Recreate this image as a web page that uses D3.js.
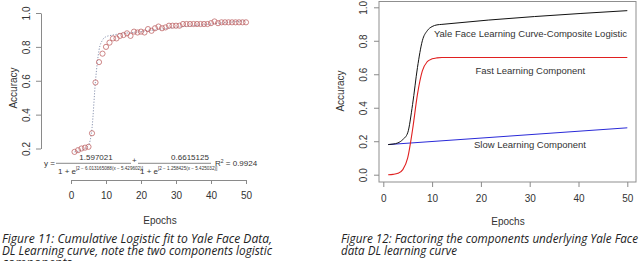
<!DOCTYPE html>
<html><head><meta charset="utf-8">
<script src="https://cdn.jsdelivr.net/npm/d3@7"></script>
<style>
body{margin:0;background:#fff;}
svg{display:block;}
.rt{font-family:"Liberation Sans",Arial,sans-serif;fill:#333;}
.cap{font-family:"Open Sans",sans-serif;font-style:italic;fill:#222;}
</style></head><body>
<svg id="c" width="640" height="261"></svg>
<script>
// ---------- data ----------
const epochs = d3.range(1, 51);
const observedAccuracy = [0.18,0.19,0.20,0.205,0.21,0.29,0.59,0.71,0.76,0.80,
  0.825,0.85,0.85,0.865,0.87,0.88,0.865,0.89,0.885,0.89,
  0.885,0.905,0.895,0.91,0.92,0.91,0.915,0.925,0.925,0.925,
  0.925,0.935,0.935,0.935,0.935,0.935,0.935,0.935,0.935,0.94,
  0.95,0.94,0.945,0.945,0.945,0.945,0.945,0.945,0.945,0.945];
const fitEpochs = [1,3,5,6,7,8,9,10,12,20,30,40,50];
const fitAccuracy = [0.18,0.19,0.22,0.32,0.60,0.78,0.84,0.86,0.87,0.89,0.915,0.935,0.955];

const compEpochs   = [1,2,3,4,5,6,7,8,9,10,11,12,50];
const compositeAcc = [0.18,0.183,0.19,0.21,0.25,0.42,0.64,0.80,0.86,0.885,0.895,0.898,0.98];
const fastEpochs   = [1,2,3,4,5,6,7,8,9,10,11,12,50];
const fastAcc      = [0.0,0.002,0.008,0.03,0.10,0.27,0.48,0.62,0.675,0.692,0.698,0.70,0.70];
const slowEpochs   = [1,50];
const slowAcc      = [0.18,0.28];

const xTicks = [0,10,20,30,40,50];
const yTicksLeft = [0.2,0.4,0.6,0.8,1.0];
const yTicksRight = [0.0,0.2,0.4,0.6,0.8,1.0];

const svg = d3.select("#c");

// ---------- left chart ----------
const xL = d3.scaleLinear().domain([0,50]).range([71,246]);
const yL = d3.scaleLinear().domain([0.2,1.0]).range([148.5,13]);
const axisCol = "#8a8a8a";

const gLy = svg.append("g").attr("transform","translate(41,0)")
  .call(d3.axisLeft(yL).tickValues(yTicksLeft).tickSize(5).tickSizeOuter(0).tickFormat(d3.format(".1f")));
const gLx = svg.append("g").attr("transform","translate(0,180)")
  .call(d3.axisBottom(xL).tickValues(xTicks).tickSize(4).tickSizeOuter(0));
function styleAxis(g, rotate, off){
  g.selectAll("path,line").attr("stroke",axisCol);
  g.selectAll("text").attr("class","rt").attr("font-size",10).attr("fill","#333");
  if(rotate){
    g.selectAll("text").attr("transform","rotate(-90)").attr("x",0).attr("y",-off)
      .attr("dy",0).attr("text-anchor","middle");
  } else {
    g.selectAll("text").attr("y",off).attr("dy","0.71em");
  }
  g.attr("font-family",null).attr("font-size",null);
}
styleAxis(gLy,true,11);
styleAxis(gLx,false,12);

svg.append("text").attr("class","rt").attr("font-size",10)
  .attr("transform","translate(17,88) rotate(-90)").attr("text-anchor","middle").text("Accuracy");
svg.append("text").attr("class","rt").attr("font-size",10)
  .attr("x",160).attr("y",224).attr("text-anchor","middle").text("Epochs");

const fitLine = d3.line().x(d=>xL(d[0])).y(d=>yL(d[1])).curve(d3.curveMonotoneX);
svg.append("path").datum(fitEpochs.map((e,i)=>[e,fitAccuracy[i]]))
  .attr("d",fitLine).attr("fill","none").attr("stroke","#7f8aa8")
  .attr("stroke-width",0.9).attr("stroke-dasharray","1.2,1.6");
svg.append("g").selectAll("circle").data(epochs.map((e,i)=>[e,observedAccuracy[i]]))
  .join("circle").attr("cx",d=>xL(d[0])).attr("cy",d=>yL(d[1])).attr("r",2.6)
  .attr("fill","none").attr("stroke","#c0686a").attr("stroke-width",0.8);

// formula
const f = svg.append("g").attr("class","rt");
f.append("text").attr("x",44).attr("y",166).attr("font-size",8).text("y =");
f.append("line").attr("x1",56).attr("x2",131).attr("y1",163.3).attr("y2",163.3).attr("stroke","#555").attr("stroke-width",0.7);
f.append("text").attr("x",96).attr("y",160).attr("font-size",8).attr("text-anchor","middle").text("1.597021");
f.append("text").attr("x",58).attr("y",174).attr("font-size",8).text("1 + e");
f.append("text").attr("x",76).attr("y",170).attr("font-size",4.6).text("[2 − 6.013165088(x − 5.429602)]");
f.append("text").attr("x",132).attr("y",163).attr("font-size",8).text("+");
f.append("line").attr("x1",138).attr("x2",211).attr("y1",163.3).attr("y2",163.3).attr("stroke","#555").attr("stroke-width",0.7);
f.append("text").attr("x",190).attr("y",160).attr("font-size",8).attr("text-anchor","middle").text("0.6615125");
f.append("text").attr("x",140).attr("y",174).attr("font-size",8).text("1 + e");
f.append("text").attr("x",158).attr("y",170).attr("font-size",4.6).text("[2 − 1.258425(x − 5.425032)]");
const r2 = f.append("text").attr("x",215).attr("y",166).attr("font-size",8);
r2.append("tspan").text("R");
r2.append("tspan").attr("font-size",5).attr("dy",-3).text("2");
r2.append("tspan").attr("dy",3).text(" = 0.9924");

// ---------- right chart ----------
const xR = d3.scaleLinear().domain([0,50]).range([383.3,627.3]);
const yR = d3.scaleLinear().domain([0,1]).range([174.7,7.3]);
svg.append("rect").attr("x",379).attr("y",1.5).attr("width",257).attr("height",180.5)
  .attr("fill","none").attr("stroke","#8f8f8f").attr("stroke-width",1);
const gRy = svg.append("g").attr("transform","translate(379,0)")
  .call(d3.axisLeft(yR).tickValues(yTicksRight).tickSize(5).tickSizeOuter(0).tickFormat(d3.format(".1f")));
gRy.select(".domain").remove();
const gRx = svg.append("g").attr("transform","translate(0,182)")
  .call(d3.axisBottom(xR).tickValues(xTicks).tickSize(5).tickSizeOuter(0));
styleAxis(gRy,true,12);
styleAxis(gRx,false,13);
gRx.select(".domain").remove();

svg.append("text").attr("class","rt").attr("font-size",10)
  .attr("transform","translate(344,91) rotate(-90)").attr("text-anchor","middle").text("Accuracy");
svg.append("text").attr("class","rt").attr("font-size",10)
  .attr("x",508).attr("y",225).attr("text-anchor","middle").text("Epochs");

const rLine = d3.line().x(d=>xR(d[0])).y(d=>yR(d[1])).curve(d3.curveMonotoneX);
svg.append("path").datum(slowEpochs.map((e,i)=>[e,slowAcc[i]])).attr("d",rLine)
  .attr("fill","none").attr("stroke","#2a2ad8").attr("stroke-width",1);
svg.append("path").datum(fastEpochs.map((e,i)=>[e,fastAcc[i]])).attr("d",rLine)
  .attr("fill","none").attr("stroke","#e02020").attr("stroke-width",1.1);
svg.append("path").datum(compEpochs.map((e,i)=>[e,compositeAcc[i]])).attr("d",rLine)
  .attr("fill","none").attr("stroke","#111").attr("stroke-width",1);

svg.append("text").attr("class","rt").attr("font-size",9.5).attr("text-anchor","middle")
  .attr("x",530.5).attr("y",37).text("Yale Face Learning Curve-Composite Logistic");
svg.append("text").attr("class","rt").attr("font-size",9.5).attr("text-anchor","middle")
  .attr("x",530.3).attr("y",74).text("Fast Learning Component");
svg.append("text").attr("class","rt").attr("font-size",9.5).attr("text-anchor","middle")
  .attr("x",530).attr("y",148).text("Slow Learning Component");

// ---------- captions ----------
function cap(x,y,t,len){
  svg.append("text").attr("class","cap").attr("font-size",12.5).attr("x",x).attr("y",y)
    .attr("textLength",len).attr("lengthAdjust","spacingAndGlyphs").text(t);
}
cap(2,242.5,"Figure 11: Cumulative Logistic fit to Yale Face Data,",270);
cap(2,254.5,"DL Learning curve, note the two components logistic",270);
cap(2,266.5,"components",70);
cap(341,242.5,"Figure 12: Factoring the components underlying Yale Face",297);
cap(341,254.5,"data DL learning curve",116);
</script></body></html>
